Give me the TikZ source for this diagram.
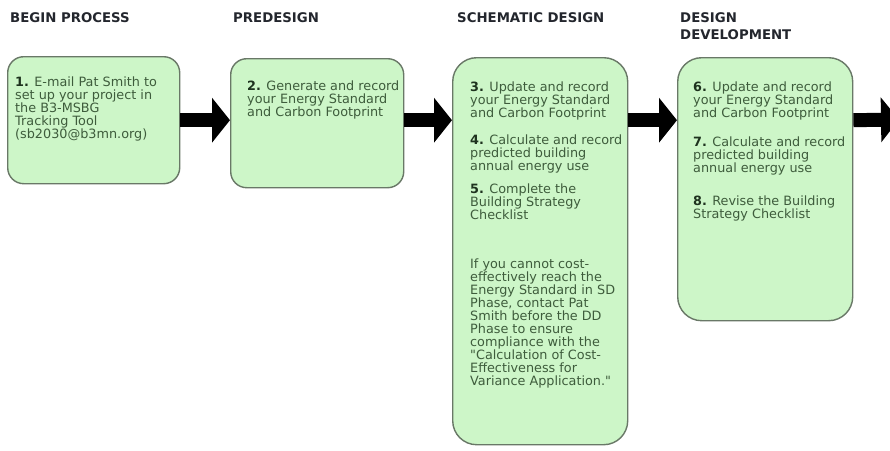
\documentclass[tikz,border=0pt]{standalone}
\usepackage{fontspec}
\setmainfont{DejaVu Sans}
\usetikzlibrary{arrows.meta,calc}
\definecolor{boxfill}{RGB}{205,246,200}
\definecolor{boxline}{RGB}{105,120,103}
\definecolor{bodytext}{RGB}{62,92,60}
\definecolor{numtext}{RGB}{30,50,30}
\definecolor{headtext}{RGB}{35,38,45}
\newcommand{\nb}[1]{{\bfseries\color{numtext}#1}}
\newcommand{\fl}{\rule{0pt}{10pt}}
\begin{document}
\begin{tikzpicture}[x=1pt,y=-1pt,
  box/.style={draw=boxline, fill=boxfill, line width=1.4pt, anchor=north west, inner sep=0pt},
  smallbox/.style={box, rounded corners=16pt},
  tallbox/.style={box, rounded corners=24pt},
  txt/.style={anchor=north west, inner sep=0pt, align=left, text=bodytext,
    font=\fontsize{12.8}{13}\selectfont},
  head/.style={anchor=north west, inner sep=0pt, align=left, text=headtext,
    font=\fontsize{13.3}{17}\selectfont\bfseries},
  bigarrow/.style={line width=14pt, draw=black, -{Triangle[width=44pt,length=18pt]}}
]
\clip (0,0) rectangle (890,450);
\fill[white] (0,0) rectangle (890,450);

% headings
\node[head] (h1) at (10,12.5) {\fl BEGIN PROCESS};
\node[head] (h2) at (233,12.5) {\fl PREDESIGN};
\node[head] (h3) at (457,12.5) {\fl SCHEMATIC DESIGN};
\node[head] (h4) at (680,12.5) {\fl DESIGN\\DEVELOPMENT};

% boxes
\node[smallbox, minimum width=172pt, minimum height=127pt] (b1) at (7,56) {};
\node[smallbox, minimum width=173pt, minimum height=129pt] (b2) at (230,58) {};
\node[tallbox, minimum width=175pt, minimum height=387pt] (b3) at (452,57) {};
\node[tallbox, minimum width=175pt, minimum height=263pt] (b4) at (677,57) {};

% texts
\node[txt] (t1) at (15,76.5) {\fl\nb{1.} E-mail Pat Smith to\\set up your project in\\the B3-MSBG\\Tracking Tool\\(sb2030@b3mn.org)};
\node[txt] (t2) at (247,80) {\fl\nb{2.} Generate and record\\your Energy Standard\\and Carbon Footprint};

\node[txt] (t3) at (470,81.5) {\fl\nb{3.} Update and record\\your Energy Standard\\and Carbon Footprint};
\node[txt] (t4) at (470,134.5) {\fl\nb{4.} Calculate and record\\predicted building\\annual energy use};
\node[txt] (t5) at (470,183) {\fl\nb{5.} Complete the\\Building Strategy\\Checklist};
\node[txt] (t5b) at (470,258.5) {\fl If you cannot cost-\\effectively reach the\\Energy Standard in SD\\Phase, contact Pat\\Smith before the DD\\Phase to ensure\\compliance with the\\\textquotedbl Calculation of Cost-\\Effectiveness for\\Variance Application.\textquotedbl};

\node[txt] (t6) at (693,81.5) {\fl\nb{6.} Update and record\\your Energy Standard\\and Carbon Footprint};
\node[txt] (t7) at (693,136) {\fl\nb{7.} Calculate and record\\predicted building\\annual energy use};
\node[txt] (t8) at (693,195) {\fl\nb{8.} Revise the Building\\Strategy Checklist};

% arrows
\coordinate (out) at (899,119.5);
\draw[bigarrow] (b1.east) -- (b1.east -| b2.west);
\draw[bigarrow] (b2.east |- b1.east) -- (b3.west |- b1.east);
\draw[bigarrow] (b3.east |- b1.east) -- (b4.west |- b1.east);
\draw[bigarrow] (b4.east |- b1.east) -- (out);
\end{tikzpicture}
\end{document}
